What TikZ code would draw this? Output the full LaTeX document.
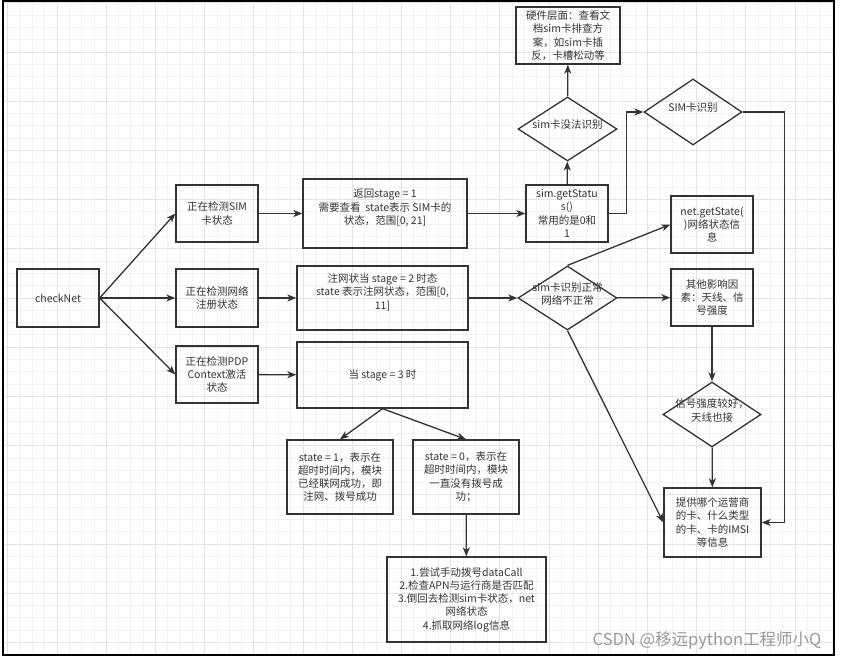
\documentclass[tikz,border=0pt]{standalone}
\usepackage{fontspec}
\setmainfont{Noto Sans CJK SC}
\usetikzlibrary{arrows.meta,shapes.geometric}
\definecolor{ink}{HTML}{333333}
\definecolor{gridminor}{HTML}{F2F2F2}
\definecolor{gridmajor}{HTML}{E3E3E3}
\newcommand{\dtext}[1]{\smash{\makebox[0pt]{\begin{tabular}{@{}c@{}}#1\end{tabular}}}}
\begin{document}
\begin{tikzpicture}[x=1pt,y=-1pt,font=\fontsize{10.5}{13.3}\selectfont]
\tikzset{box/.style={draw=ink,line width=1.3pt,text=ink,align=center,inner sep=2pt,minimum width=82pt,minimum height=57pt},
  dia/.style={diamond,draw=ink,line width=1.3pt,text=ink,inner sep=0pt,minimum width=99pt,minimum height=64pt},
  arr/.style={draw=ink,line width=1.3pt,-{Stealth[length=9pt,width=7pt,inset=2.5pt]}}}
\useasboundingbox (0,0) rectangle (841,660);
% background grid
\begin{scope}
\clip (3,1) rectangle (834,655);
\foreach \k in {0,...,68} \draw[gridminor,line width=0.8pt] (7.8+12.3*\k,0) -- (7.8+12.3*\k,660);
\foreach \k in {0,...,53} \draw[gridminor,line width=0.8pt] (0,2.8+12.3*\k) -- (841,2.8+12.3*\k);
\foreach \k in {0,...,17} \draw[gridmajor,line width=0.8pt] (7.8+49.2*\k,0) -- (7.8+49.2*\k,660);
\foreach \k in {0,...,13} \draw[gridmajor,line width=0.8pt] (0,2.8+49.2*\k) -- (841,2.8+49.2*\k);
\end{scope}
\draw[black,line width=1.6pt] (3,1) rectangle (834,655);
% left column
\node (chk) at (58,298) [box,minimum height=58pt] {checkNet};
\node (sim) at (217,213.5) [box] {正在检测SIM\\卡状态};
\node (reg) at (217,298) [box,minimum height=58pt] {正在检测网络\\注册状态};
\node (pdp) at (217,374.5) [box] {正在检测PDP\\Context激活\\状态};
% stage boxes
\node (stA) at (385,213.5) [box,minimum width=164pt,minimum height=69pt] {返回stage = 1\\需要查看\ \ state表示 SIM卡的\\状态，范围[0, 21]\\\mbox{}};
\node (stB) at (382.5,298) [box,minimum width=171pt,minimum height=64pt] {注网状当 stage = 2 时态\\state 表示注网状态，范围[0,\\11]\\\mbox{}};
\node (stC) at (382.5,375) [box,minimum width=171pt,minimum height=66pt] {当 stage = 3 时};
\node (ok) at (340,477) [box,minimum width=106pt,minimum height=74pt] {state = 1，表示在\\超时时间内，模块\\已经联网成功，即\\注网、拨号成功};
\node (fail) at (466,477) [box,minimum width=106pt,minimum height=74pt] {state = 0，表示在\\超时时间内，模块\\一直没有拨号成\\功；};
\node (todo) at (466.5,599.5) [box,minimum width=159pt,minimum height=85pt] {1.尝试手动拨号dataCall\\2.检查APN与运行商是否匹配\\3.倒回去检测sim卡状态，net\\网络状态\\4.抓取网络log信息};
% sim card branch
\node (stat) at (567,213.5) [box] {sim.getStatu\\s()\\常用的是0和\\1};
\node (nosim) at (567.5,129) [dia] {\dtext{sim卡没法识别}};
\node (hw) at (568,35.5) [box,minimum width=104pt] {硬件层面：查看文\\档sim卡排查方\\案，如sim卡插\\反，卡槽松动等};
\node (simok) at (693,112) [dia,minimum width=98pt,minimum height=66pt] {\dtext{SIM卡识别}};
% network branch
\node (netbad) at (567.5,298) [dia] {\dtext{sim卡识别正常\\网络不正常}};
\node (netst) at (712,224.5) [box] {net.getState(\\)网络状态信\\息};
\node (other) at (712,297.5) [box] {其他影响因\\素：天线、信\\号强度};
\node (sig) at (712,414.5) [dia,minimum width=98pt,minimum height=65pt] {\dtext{信号强度较好，\\天线也接}};
\node (info) at (712.5,522.5) [box,minimum width=97pt,minimum height=69pt] {提供哪个运营商\\的卡、什么类型\\的卡、卡的IMSI\\等信息};
\node (mark) at (825,640) [anchor=east,text=black!40,font=\fontsize{16.5}{18}\selectfont] {CSDN @移远python工程师小Q};
% connectors
\draw[arr] (chk.east) -- (sim.west);
\draw[arr] (chk.east) -- (reg.west);
\draw[arr] (chk.east) -- (pdp.west);
\draw[arr] (sim) -- (stA);
\draw[arr] (reg) -- (stB);
\draw[arr] (pdp) -- (stC);
\draw[arr] (stA) -- (stat);
\draw[arr] (stat) -- (nosim);
\draw[arr] (nosim) -- (hw);
\draw[arr] (stat.east) -- ++(18,0) |- (simok.west);
\draw[arr] (simok.east) -- ++(42,0) |- (info.east);
\draw[arr] (stB) -- (netbad);
\draw[arr] (netbad.north) -- (netst.west);
\draw[arr] (netbad) -- (other);
\draw[arr] (netbad.south) -- (info.west);
\draw[arr] (other) -- (sig);
\draw[arr] (sig) -- (info);
\draw[arr] (stC.south) -- (ok.north);
\draw[arr] (stC.south) -- (fail.north);
\draw[arr] (fail) -- (todo);
\end{tikzpicture}
\end{document}
